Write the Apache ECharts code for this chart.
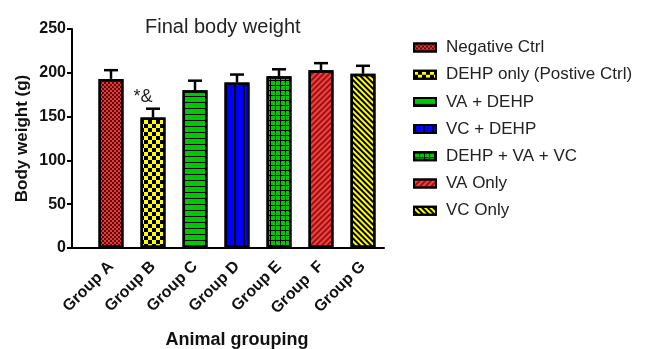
<!DOCTYPE html>
<html><head><meta charset="utf-8">
<script src="https://cdn.jsdelivr.net/npm/echarts@6/dist/echarts.min.js"></script>
<style>html,body{margin:0;padding:0;background:#fff}#c{width:652px;height:349px}</style>
</head><body><div id="c"></div>
<script>
// ---- data ----
const categories = ['Group A', 'Group B', 'Group C', 'Group D', 'Group E', 'Group  F', 'Group G'];
const seriesNames = ['Negative Ctrl', 'DEHP only (Postive Ctrl)', 'VA + DEHP', 'VC + DEHP', 'DEHP + VA + VC', 'VA Only', 'VC Only'];
const meanWeight = [193, 149, 180, 189, 196, 203, 199];
const errorSD = [10, 10, 11, 9, 8, 8, 9];
const annotations = ['', '*&', '', '', '', '', ''];
const yTicks = [0, 50, 100, 150, 200, 250];

// ---- styles ----
const FONT = '"Liberation Sans", Arial, sans-serif';
const fills = ['#e23a3a', '#ffff00', '#00c800', '#0000ff', '#00c800', '#ee4444', '#ffff00'];
const decals = [
  {symbol: 'rect', symbolSize: 1, color: '#5a0a0a', dashArrayX: [[2, 2], [0, 2, 2, 0]], dashArrayY: [2, 0]},
  {symbol: 'rect', symbolSize: 1, color: '#000', dashArrayX: [[4, 4], [0, 4, 4, 0]], dashArrayY: [4, 0]},
  {symbol: 'rect', symbolSize: 1, color: '#000', dashArrayX: [1, 0], dashArrayY: [1, 5]},
  {symbol: 'rect', symbolSize: 1, color: '#000', dashArrayX: [1.5, 6.5], dashArrayY: [1, 0]},
  {symbol: 'rect', symbolSize: 1, color: '#000', dashArrayX: [[1, 0], [1, 4]], dashArrayY: [1, 0, 4, 0]},
  {symbol: 'rect', symbolSize: 1, color: '#a01010', dashArrayX: [1.2, 2], dashArrayY: [1, 0], rotation: Math.PI / 4},
  {symbol: 'rect', symbolSize: 1, color: '#000', dashArrayX: [1.4, 1.8], dashArrayY: [1, 0], rotation: -Math.PI / 4}
];

const barSeries = seriesNames.map((name, i) => ({
  name: name,
  type: 'bar',
  barWidth: 25,
  barGap: '-100%',
  data: categories.map((c, j) => (j === i ? meanWeight[j] : null)),
  itemStyle: {color: fills[i], borderColor: '#000', borderWidth: 2.5, decal: decals[i]},
  emphasis: {disabled: true},
  z: 2
}));

const errData = categories.map((c, i) => [i, meanWeight[i], errorSD[i], annotations[i]]);

const errSeries = {
  type: 'custom',
  name: 'err',
  data: errData,
  z: 3,
  renderItem: function (params, api) {
    const idx = api.value(0);
    const top = api.coord([idx, api.value(1)]);
    const hi = api.coord([idx, api.value(1) + api.value(2)]);
    const children = [
      {type: 'line', shape: {x1: top[0], y1: top[1], x2: hi[0], y2: hi[1]}, style: {stroke: '#000', lineWidth: 2.5}},
      {type: 'line', shape: {x1: hi[0] - 7, y1: hi[1], x2: hi[0] + 7, y2: hi[1]}, style: {stroke: '#000', lineWidth: 2.5}}
    ];
    const ann = errData[params.dataIndex][3];
    if (ann) {
      children.push({type: 'text', x: hi[0] - 10, y: hi[1] - 3,
        style: {text: ann, fill: '#222', font: '18px ' + FONT, align: 'center', verticalAlign: 'bottom'}});
    }
    return {type: 'group', children: children};
  }
};

const chart = echarts.init(document.getElementById('c'), null, {renderer: 'canvas'});
chart.setOption({
  animation: false,
  backgroundColor: '#fff',
  title: {
    text: 'Final body weight', left: 140, top: 12,
    textStyle: {fontFamily: FONT, fontSize: 20, fontWeight: 'normal', color: '#222'}
  },
  legend: {
    data: seriesNames, orient: 'vertical', left: 408, top: 34,
    icon: 'rect', itemWidth: 22, itemHeight: 8, itemGap: 10.2,
    itemStyle: {borderColor: '#000', borderWidth: 2},
    textStyle: {fontFamily: FONT, fontSize: 17, color: '#222', padding: [0, 0, 0, 5]},
    selectedMode: false
  },
  grid: {left: 90, right: 268, top: 29, bottom: 101, containLabel: false, outerBoundsMode: 'none'},
  xAxis: {
    type: 'category', data: categories,
    name: 'Animal grouping', nameLocation: 'middle', nameGap: 83,
    nameTextStyle: {fontFamily: FONT, fontSize: 18, fontWeight: 'bold', color: '#111'},
    axisLine: {lineStyle: {color: '#000', width: 2}},
    axisTick: {alignWithLabel: true, length: 5, lineStyle: {color: '#000', width: 2}},
    axisLabel: {rotate: 45, margin: 16, fontFamily: FONT, fontSize: 16, fontWeight: 'bold', color: '#111', interval: 0}
  },
  yAxis: {
    type: 'value', min: yTicks[0], max: yTicks[yTicks.length - 1], interval: 50, offset: 18,
    name: 'Body weight (g)', nameLocation: 'middle', nameGap: 41,
    nameTextStyle: {fontFamily: FONT, fontSize: 17, fontWeight: 'bold', color: '#111'},
    axisLine: {show: true, lineStyle: {color: '#000', width: 2}},
    axisTick: {show: true, length: 5, lineStyle: {color: '#000', width: 2}},
    axisLabel: {margin: 6, fontFamily: FONT, fontSize: 16, fontWeight: 'bold', color: '#111'},
    splitLine: {show: false}
  },
  series: barSeries.concat([errSeries])
});
// extend the x baseline to the offset y-axis line
const y0 = chart.convertToPixel({yAxisIndex: 0}, 0);
chart.setOption({graphic: [{type: 'line', shape: {x1: 71, y1: y0, x2: 91, y2: y0}, style: {stroke: '#000', lineWidth: 2}, z: 5}]});
</script></body></html>
